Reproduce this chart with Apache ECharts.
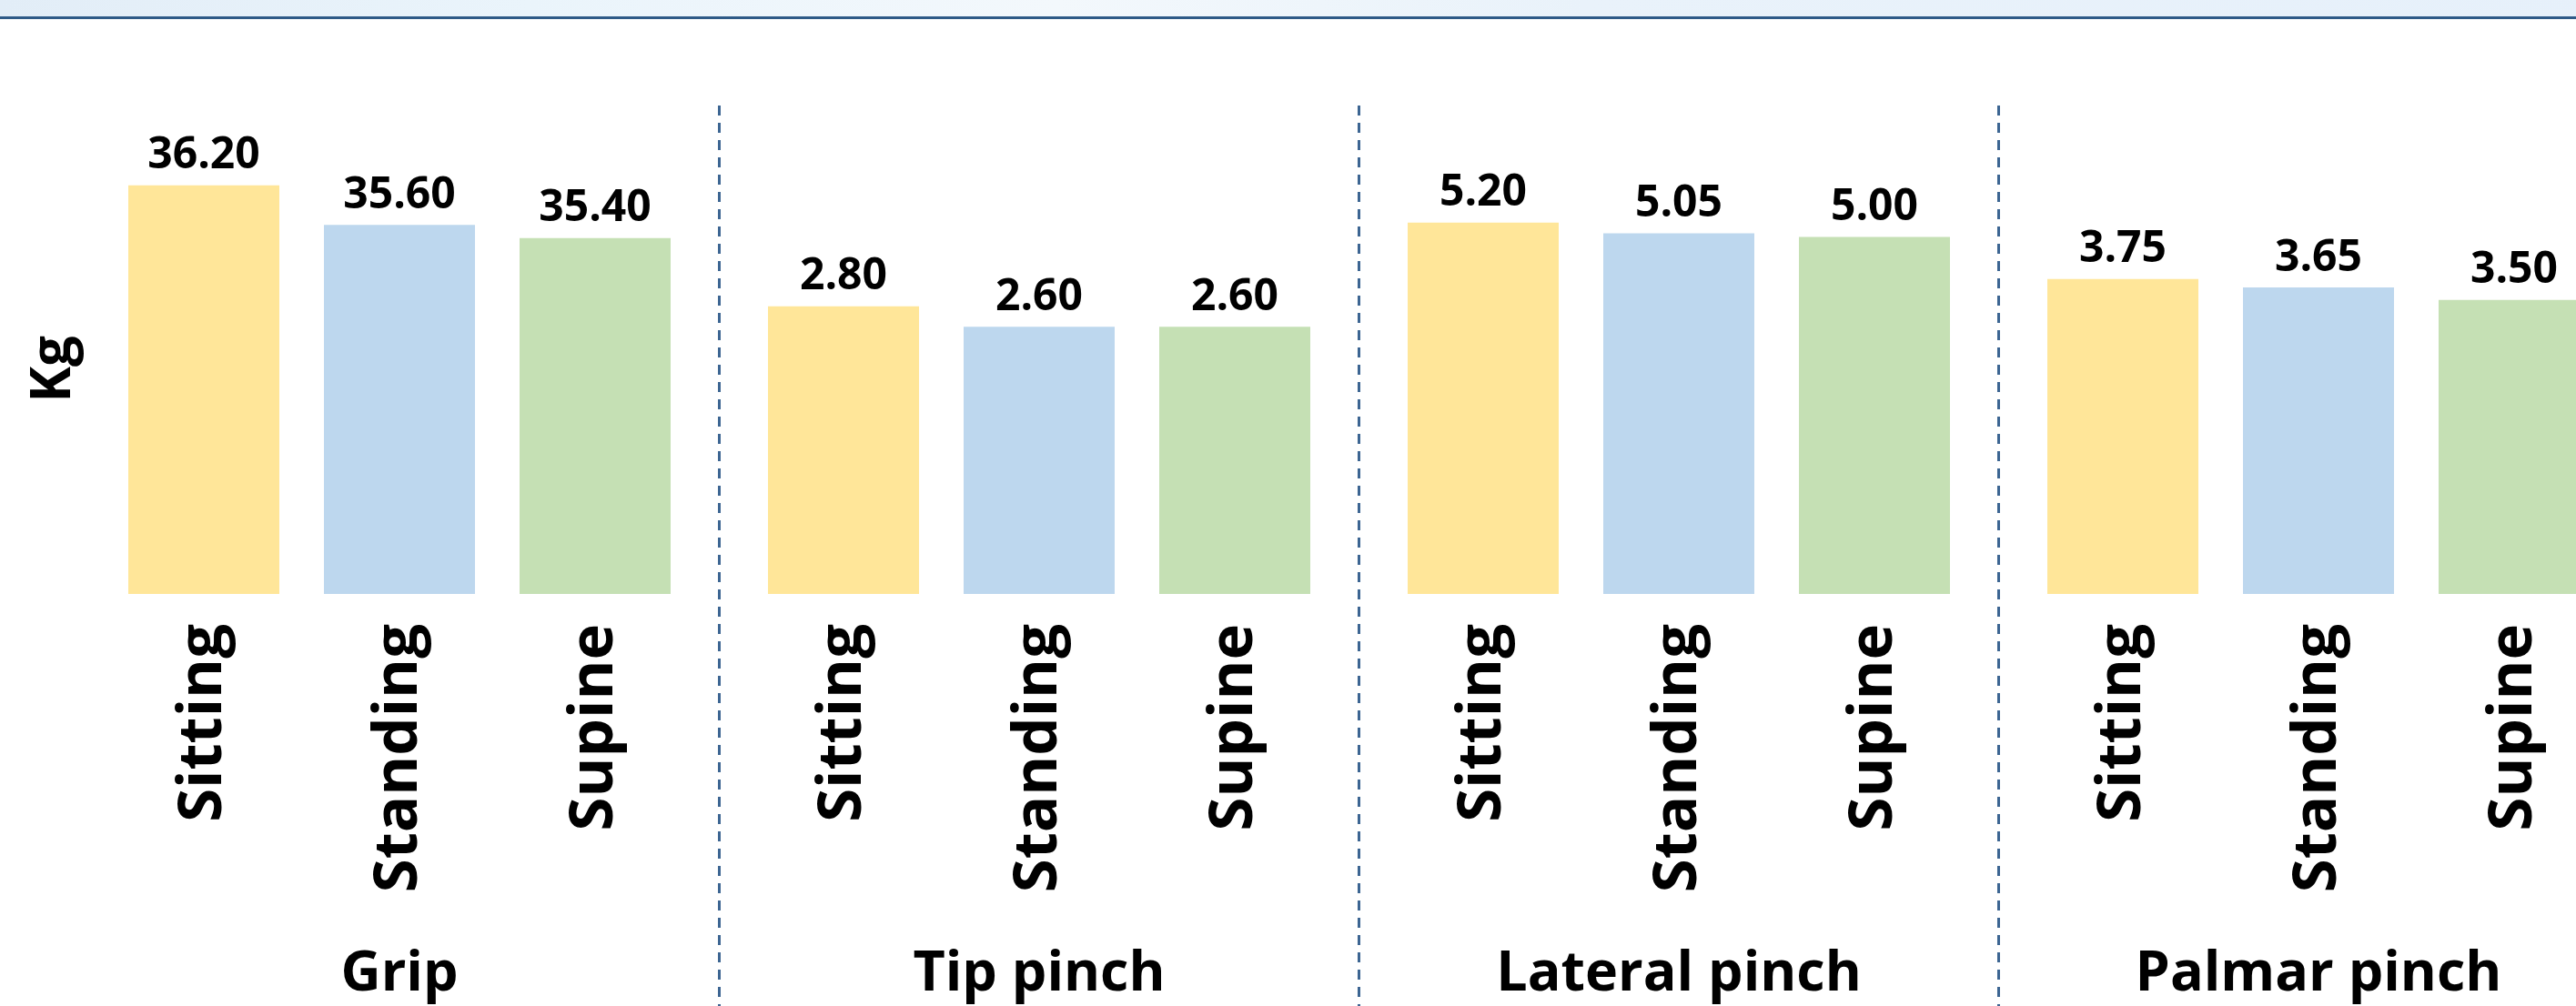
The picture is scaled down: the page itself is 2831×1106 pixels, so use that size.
<!DOCTYPE html>
<html>
<head>
<meta charset="utf-8">
<title>Grip and pinch strength by posture</title>
<script src="https://cdn.jsdelivr.net/npm/echarts@6/dist/echarts.min.js"></script>
<style>
  html, body { margin: 0; padding: 0; background: #ffffff; overflow: hidden; }
  /* the last panel runs past the right edge of the page */
  #chart { width: 2900px; height: 1106px; }
</style>
</head>
<body>
<div id="chart"></div>
<script>
// Postures measured within each strength test
const postures = ['Sitting', 'Standing', 'Supine'];
// Strength tests (one panel each)
const tests = ['Grip', 'Tip pinch', 'Lateral pinch', 'Palmar pinch'];
// Mean strength in Kg, one array per test, ordered as postures
const gripValues = [36.20, 35.60, 35.40];
const tipPinchValues = [2.80, 2.60, 2.60];
const lateralPinchValues = [5.20, 5.05, 5.00];
const palmarPinchValues = [3.75, 3.65, 3.50];
// Value range of each panel's own (hidden) vertical axis
const axisMin = [30, 0, 0, 0];
const axisMax = [36.5, 4.17, 6.0, 5.1];

const panelValues = [gripValues, tipPinchValues, lateralPinchValues, palmarPinchValues];
const postureColors = ['#FFE699', '#BDD7EE', '#C5E0B4'];

// Panel geometry
const W = 2900, H = 1106;
const firstCenter = 439, panelStep = 703, panelWidth = 645;
const plotTop = 182, plotHeight = 471;
const FONT = '"Open Sans", "Noto Sans", sans-serif';

const chart = echarts.init(document.getElementById('chart'), null, { renderer: 'canvas', width: W, height: H });

const grids = [], xAxes = [], yAxes = [], series = [];
tests.forEach((name, i) => {
  const center = firstCenter + panelStep * i;
  grids.push({ left: center - panelWidth / 2, width: panelWidth, top: plotTop, height: plotHeight, containLabel: false });
  xAxes.push({
    type: 'category', gridIndex: i, data: postures,
    axisLine: { show: false }, axisTick: { show: false }, splitLine: { show: false },
    axisLabel: { rotate: 90, margin: 33, fontSize: 67, fontWeight: 'bold', color: '#000', fontFamily: FONT },
    name: name, nameLocation: 'middle', nameGap: 388,
    nameTextStyle: { fontSize: 61, fontWeight: 'bold', color: '#000', fontFamily: FONT }
  });
  yAxes.push({ type: 'value', gridIndex: i, min: axisMin[i], max: axisMax[i], show: false });
  series.push({
    type: 'bar', xAxisIndex: i, yAxisIndex: i, barWidth: 166,
    data: panelValues[i].map((v, k) => ({ value: v, itemStyle: { color: postureColors[k] } })),
    label: {
      show: true, position: 'top', distance: 8,
      formatter: p => p.value.toFixed(2),
      fontSize: 48, fontWeight: 'bold', color: '#000', fontFamily: FONT
    },
    silent: true, animation: false
  });
});

// Header band, dashed panel separators and the unit label
const graphics = [
  { type: 'rect', shape: { x: 0, y: 0, width: W, height: 18 },
    style: { fill: new echarts.graphic.LinearGradient(0, 0, 1, 0, [
      { offset: 0, color: '#E2EDF7' }, { offset: 0.2, color: '#EAF4FB' },
      { offset: 0.4, color: '#F3F8FC' }, { offset: 0.6, color: '#E9F2FA' },
      { offset: 1, color: '#E6F0FA' }]) }, silent: true },
  { type: 'rect', shape: { x: 0, y: 18, width: W, height: 3 }, style: { fill: '#2E5A87' }, silent: true },
  { type: 'text', x: 60, y: 406, rotation: Math.PI / 2,
    style: { text: 'Kg', fontSize: 60, fontWeight: 'bold', fill: '#000', fontFamily: FONT,
      align: 'center', verticalAlign: 'middle' }, silent: true }
];
for (let i = 0; i < tests.length - 1; i++) {
  const x = firstCenter + panelStep * i + panelStep / 2;
  graphics.push({ type: 'line', shape: { x1: x, y1: 116, x2: x, y2: H },
    style: { stroke: '#3C6592', lineWidth: 3, lineDash: [11, 8] }, silent: true });
}

chart.setOption({
  animation: false,
  backgroundColor: '#ffffff',
  grid: grids, xAxis: xAxes, yAxis: yAxes, series: series,
  graphic: graphics
});
</script>
</body>
</html>
